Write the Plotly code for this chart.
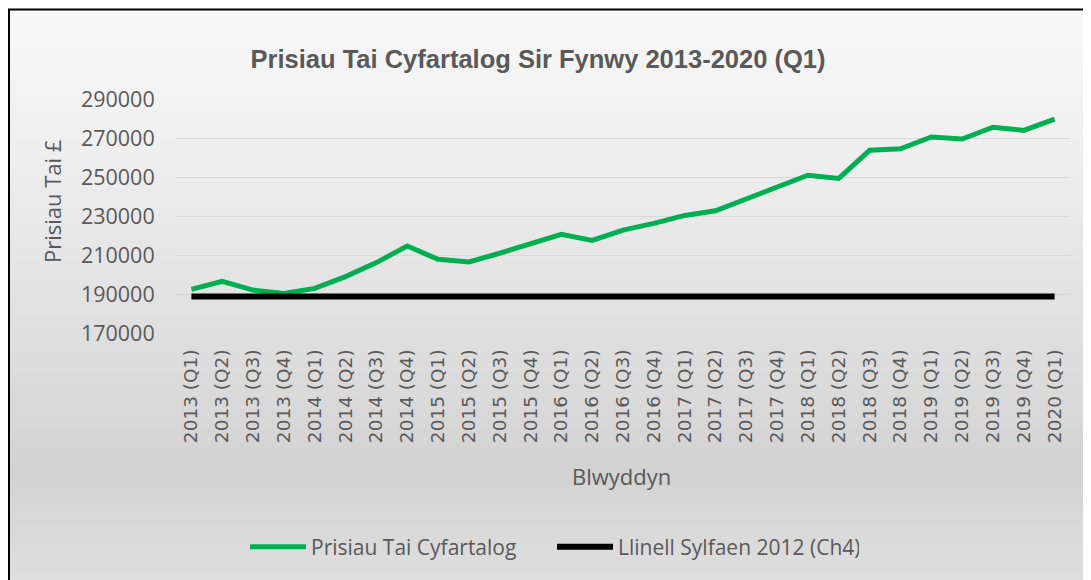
import plotly.graph_objects as go

# ---- data ----
quarters = [
    "2013 (Q1)", "2013 (Q2)", "2013 (Q3)", "2013 (Q4)",
    "2014 (Q1)", "2014 (Q2)", "2014 (Q3)", "2014 (Q4)",
    "2015 (Q1)", "2015 (Q2)", "2015 (Q3)", "2015 (Q4)",
    "2016 (Q1)", "2016 (Q2)", "2016 (Q3)", "2016 (Q4)",
    "2017 (Q1)", "2017 (Q2)", "2017 (Q3)", "2017 (Q4)",
    "2018 (Q1)", "2018 (Q2)", "2018 (Q3)", "2018 (Q4)",
    "2019 (Q1)", "2019 (Q2)", "2019 (Q3)", "2019 (Q4)",
    "2020 (Q1)",
]
avg_price = [
    192400, 196500, 192000, 190300,
    192900, 198900, 206100, 214600,
    207800, 206400, 210900, 216000,
    220600, 217500, 222800, 226200,
    230300, 232700, 238700, 245000,
    250900, 249300, 263700, 264500,
    270500, 269500, 275500, 273900,
    279700,
]
baseline_2012 = 188700
baseline = [baseline_2012 for _ in quarters]

y_ticks = [170000, 190000, 210000, 230000, 250000, 270000, 290000]

title_text = "Prisiau Tai Cyfartalog Sir Fynwy 2013-2020 (Q1)"
name_avg = "Prisiau Tai Cyfartalog"
name_base = "Llinell Sylfaen 2012 (Ch4)"
x_title = "Blwyddyn"
y_title = "Prisiau Tai £"

# ---- layout geometry (screen pixels; page body adds an 8px offset) ----
OFF = 8
SW, SH = 1091, 580
W, H = SW - OFF, SH - OFF
PL, PR, PT, PB = 176, 1070, 99, 333   # plot area in screen px
L, R, T, B = PL - OFF, SW - PR, PT - OFF, SH - PB
PW, PH = W - L - R, H - T - B


def px(x):
    return (x - OFF - L) / PW


def py(y):
    return (H - B - (y - OFF)) / PH


TXT = "#595959"
fig = go.Figure()

fig.add_trace(go.Scatter(
    x=quarters, y=avg_price, mode="lines", name=name_avg,
    line=dict(color="#00B050", width=5),
))
fig.add_trace(go.Scatter(
    x=quarters, y=baseline, mode="lines", name=name_base,
    line=dict(color="#000000", width=6),
))

# background gradient bands + border
stops = [(9, 248), (150, 239), (300, 226), (470, 211), (580, 222)]


def gray_at(y):
    for (y0, g0), (y1, g1) in zip(stops[:-1], stops[1:]):
        if y0 <= y <= y1:
            return g0 + (g1 - g0) * (y - y0) / (y1 - y0)
    return stops[-1][1]


shapes = []
step = 4
yy = 9
while yy < SH:
    g = int(round(gray_at(yy + step / 2)))
    shapes.append(dict(
        type="rect", xref="paper", yref="paper", layer="below",
        x0=px(OFF + 1), x1=px(SW + 5), y0=py(yy), y1=py(min(yy + step + 1, SH + 5)),
        fillcolor=f"rgb({g},{g},{g})", line=dict(width=0),
    ))
    yy += step
shapes.append(dict(
    type="rect", xref="paper", yref="paper", layer="below",
    x0=px(OFF + 1), x1=px(SW + 10), y0=py(OFF + 1.5), y1=py(SH + 10),
    fillcolor="rgba(0,0,0,0)", line=dict(color="#000000", width=2),
))

fig.update_layout(
    width=W, height=H,
    margin=dict(l=L, r=R, t=T, b=B, pad=0),
    paper_bgcolor="white", plot_bgcolor="rgba(0,0,0,0)",
    shapes=shapes,
    title=dict(
        text=title_text, x=(538 - OFF) / W, xanchor="center",
        y=1 - (59 - OFF) / H, yanchor="middle",
        font=dict(family="Liberation Sans", size=25.5, color=TXT, weight="bold"),
    ),
    xaxis=dict(
        type="category", range=[-0.5, len(quarters) - 0.5],
        showgrid=False, zeroline=False, showline=False,
        tickangle=-90, ticks="outside", ticklen=8, tickcolor="rgba(0,0,0,0)",
        tickfont=dict(family="DejaVu Sans", size=18.5, color=TXT),
    ),
    yaxis=dict(
        range=[170000, 290000], tickvals=y_ticks, tickformat="d",
        showgrid=True, gridcolor="#d9d9d9", gridwidth=1.3,
        zeroline=False, showline=False,
        ticks="outside", ticklen=16, tickcolor="rgba(0,0,0,0)",
        tickfont=dict(family="Open Sans", size=21.5, color=TXT),
    ),
    showlegend=True,
    legend=dict(
        orientation="h", x=px(245), xanchor="left", y=py(547), yanchor="middle",
        font=dict(family="Open Sans", size=21, color=TXT),
        bgcolor="rgba(0,0,0,0)", itemwidth=56, entrywidth=236,
        tracegroupgap=0,
    ),
    annotations=[
        dict(text=x_title, xref="paper", yref="paper", x=px(621), y=py(476),
             xanchor="center", yanchor="middle", showarrow=False,
             font=dict(family="Open Sans", size=22, color=TXT)),
        dict(text=y_title, xref="paper", yref="paper", x=px(52), y=py(201),
             xanchor="center", yanchor="middle", showarrow=False, textangle=-90,
             font=dict(family="Open Sans", size=22, color=TXT)),
    ],
)

fig.write_html("out.html")
